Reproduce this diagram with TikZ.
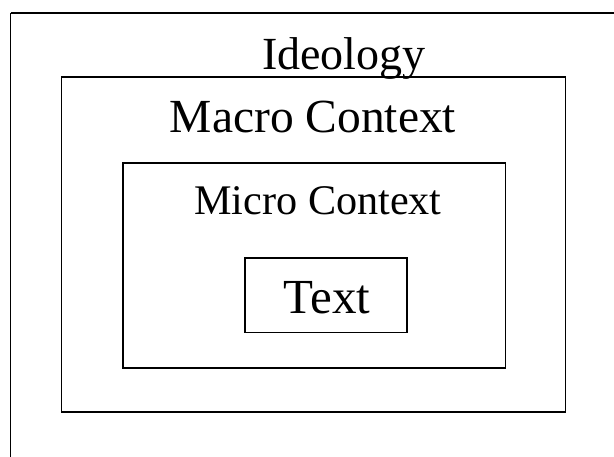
\documentclass[tikz,border=0pt]{standalone}
\usepackage{fontspec}
\setmainfont{Liberation Serif}
\begin{document}
\begin{tikzpicture}[x=1pt,y=-1pt,
  boxline/.style={draw=black,line width=1.8pt},
  lbl/.style={anchor=base,inner sep=0pt}]
\useasboundingbox (0,0) rectangle (614,457);
% outer (ideology) frame, cut off at right and bottom
\draw[boxline] (10.5,13) -- (614,13);
\draw[boxline] (10.5,13) -- (10.5,457);
% macro
\draw[boxline] (61.5,77) rectangle (565.5,412);
% micro
\draw[boxline] (123,163) rectangle (505.5,368);
% text
\draw[boxline] (245,258) rectangle (407,332.5);
\node[lbl,font=\fontsize{46}{50}\selectfont] (ideo) at (344,70) {Ideology};
\node[lbl,font=\fontsize{47.5}{50}\selectfont] (macro) at (313,133) {Macro Context};
\node[lbl,font=\fontsize{42.2}{45}\selectfont] (micro) at (318,215) {Micro Context};
\node[lbl,font=\fontsize{49}{52}\selectfont] (txt) at (327,314) {Text};
\end{tikzpicture}
\end{document}
